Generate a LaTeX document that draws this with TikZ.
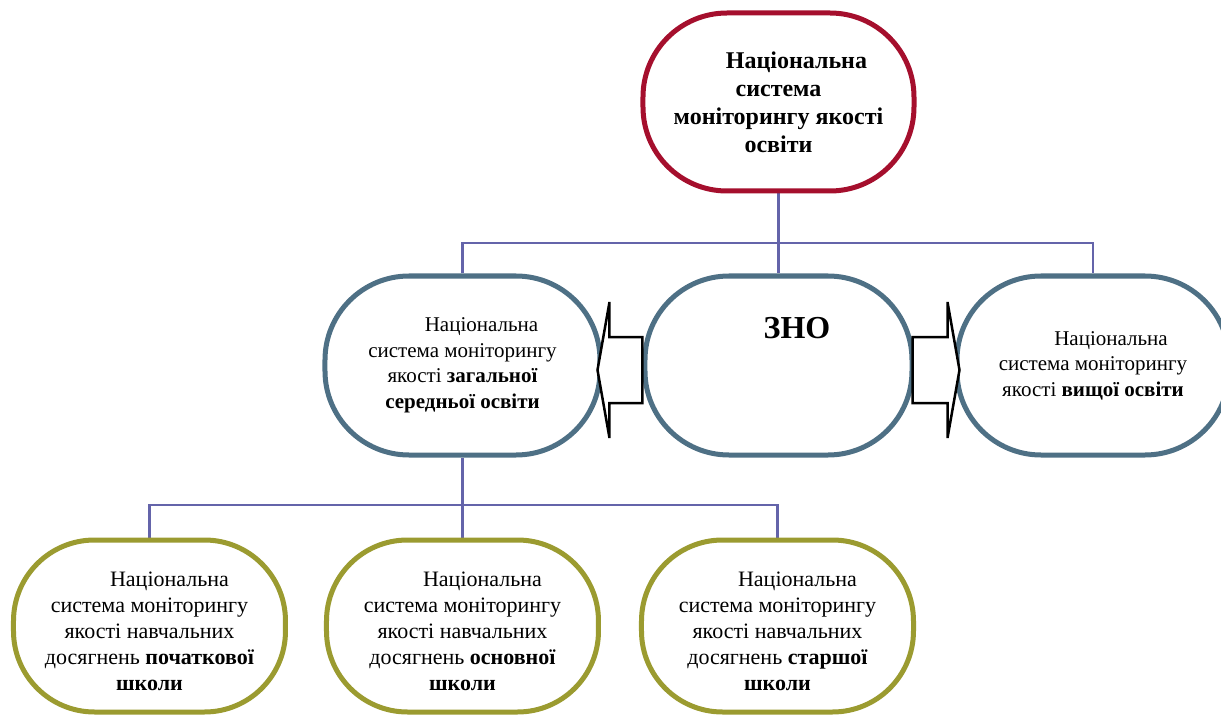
\documentclass[tikz,border=0pt]{standalone}
\usepackage{fontspec}
\setmainfont{Liberation Serif}
\usetikzlibrary{positioning, calc, backgrounds}

\definecolor{rootred}{HTML}{A50F2D}
\definecolor{levelblue}{HTML}{4E7085}
\definecolor{schoololive}{HTML}{9B9B30}
\definecolor{linkviolet}{HTML}{6464AA}

\begin{document}
\begin{tikzpicture}[x=1pt, y=1pt, on grid,
    rootbox/.style={draw=rootred, line width=5pt, fill=white, rounded corners=84pt,
        minimum width=271pt, minimum height=178pt, align=center,
        font=\fontsize{24}{28}\selectfont\bfseries},
    levelbox/.style={draw=levelblue, line width=5pt, fill=white, rounded corners=84pt,
        minimum height=179pt, align=center, font=\fontsize{21}{25.5}\selectfont},
    schoolbox/.style={draw=schoololive, line width=5pt, fill=white, rounded corners=81pt,
        minimum width=272pt, minimum height=172pt, align=center,
        text height=135pt, text depth=6pt, font=\fontsize{22}{26}\selectfont},
    conn/.style={draw=linkviolet, line width=2.2pt},
    blockarrow/.style={draw=black, line width=2.5pt, fill=white}]

    \useasboundingbox (-778.5,-352.5) rectangle (442.5,365.5);

    \node[levelbox, minimum width=267pt, text height=21pt, text depth=76pt,
        font=\fontsize{32}{36}\selectfont\bfseries] (zno) at (0,0) {\hspace*{37pt}ЗНО};
    \node[levelbox, minimum width=275pt] (zso) [left=316pt of zno]
        {\hspace*{38pt}Національна\\ система моніторингу\\ якості \textbf{загальної}\\ \textbf{середньої освіти}};
    \node[levelbox, minimum width=272pt] (vo) [right=314.5pt of zno]
        {\hspace*{36pt}Національна\\ система моніторингу\\ якості \textbf{вищої освіти}};
    \node[rootbox] (nsm) [above=263.5pt of zno]
        {\hspace*{36pt}Національна\\ система\hspace*{14pt}\\ моніторингу якості\\ освіти};

    \node[schoolbox] (os) [below=260.5pt of zso]
        {\hspace*{40pt}Національна\\ система моніторингу\\ якості навчальних\\ досягнень \textbf{основної}\\ \textbf{школи}};
    \node[schoolbox] (ps) [left=313pt of os]
        {\hspace*{40pt}Національна\\ система моніторингу\\ якості навчальних\\ досягнень \textbf{початкової}\\ \textbf{школи}};
    \node[schoolbox] (ss) [right=315pt of os]
        {\hspace*{40pt}Національна\\ система моніторингу\\ якості навчальних\\ досягнень \textbf{старшої}\\ \textbf{школи}};

    \coordinate[below=141pt of nsm] (fork_1);
    \coordinate[below=139.5pt of zso] (fork_2);

    \begin{scope}[on background layer]
        \draw[conn] (nsm.south) -- (zno.north);
        \draw[conn] (zso.north) |- (fork_1) -| (vo.north);
        \draw[conn] (zso.south) -- (os.north);
        \draw[conn] (ps.north) |- (fork_2) -| (ss.north);
    \end{scope}

    % block arrows on both sides of ZNO
    \draw[blockarrow] ($(zno.west)+(0,28.5)$) -- ++(-33,0) -- ++(0,35) -- ++(-12,-68)
        -- ++(12,-68) -- ++(0,35) -- ++(33,0) -- cycle;
    \draw[blockarrow] ($(zno.east)+(-2,28.5)$) -- ++(35,0) -- ++(0,35) -- ++(12,-68)
        -- ++(-12,-68) -- ++(0,35) -- ++(-35,0) -- cycle;

\end{tikzpicture}
\end{document}
